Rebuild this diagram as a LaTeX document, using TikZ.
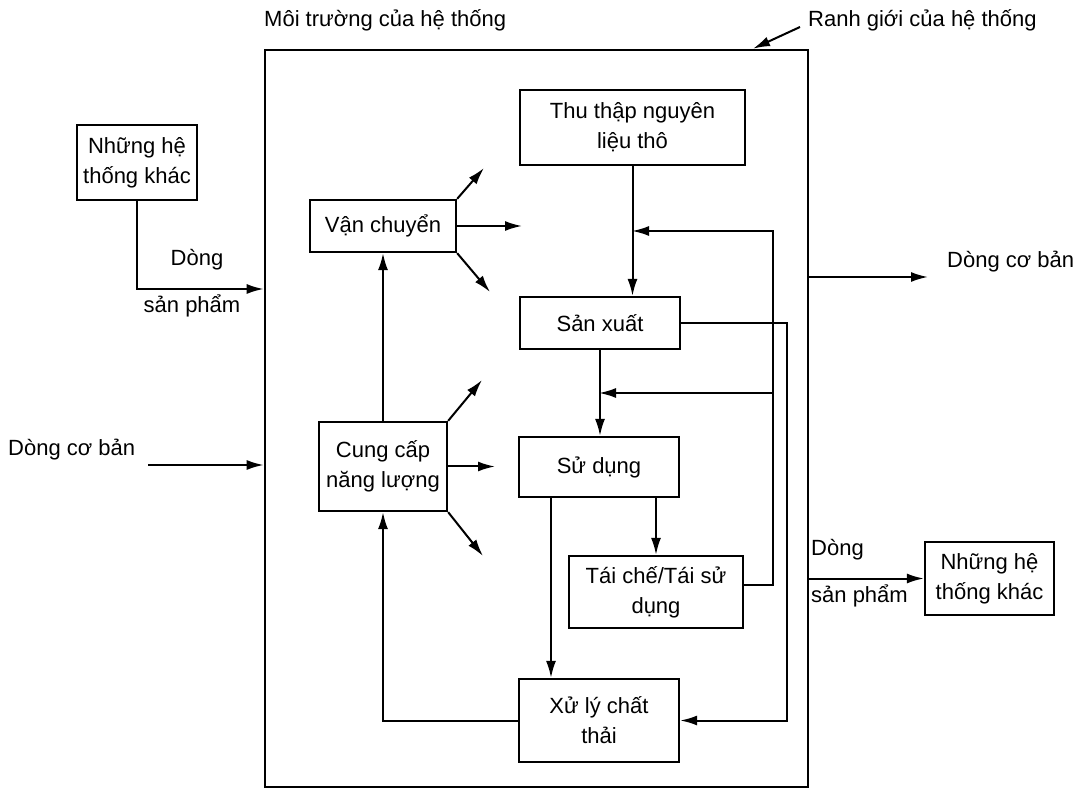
\documentclass[tikz,border=0pt]{standalone}
\usepackage{fontspec}
\setmainfont{Liberation Sans}
\usetikzlibrary{arrows.meta}
\begin{document}
\begin{tikzpicture}[x=1pt,y=-1pt,
  every node/.style={font=\fontsize{22}{30}\selectfont, inner sep=0pt},
  box/.style={draw, line width=2.3pt, align=center},
  conn/.style={line width=2pt},
  arr/.style={conn, -{Latex[length=17pt,width=10pt]}},
  lbl/.style={align=center}]
\useasboundingbox (0,0) rectangle (1085,791);

% system boundary
\node[draw, line width=2.6pt, minimum width=543pt, minimum height=737pt] (sys) at (536.5,418.5) {};

% process boxes
\node[box, minimum width=225pt, minimum height=75pt] (tt) at (632.5,127.5) {Thu thập nguyên\\liệu thô};
\node[box, minimum width=160pt, minimum height=52pt] (sx) at (600,323) {Sản xuất};
\node[box, minimum width=160pt, minimum height=60pt] (sd) at (599,467) {Sử dụng};
\node[box, minimum width=174pt, minimum height=72pt] (tc) at (656,592) {Tái chế/Tái sử\\dụng};
\node[box, minimum width=160pt, minimum height=83pt] (xl) at (599,720.5) {Xử lý chất\\thải};
\node[box, minimum width=146pt, minimum height=52pt] (vc) at (383,226) {Vận chuyển};
\node[box, minimum width=128pt, minimum height=89pt] (cc) at (383,466.5) {Cung cấp\\năng lượng};

% external systems
\node[box, minimum width=120pt, minimum height=75pt] (o1) at (137,162.5) {Những hệ\\thống khác};
\node[box, minimum width=129pt, minimum height=73pt] (o2) at (989.5,578.5) {Những hệ\\thống khác};

% texts
\node[anchor=west] (tenv) at (264,20) {Môi trường của hệ thống};
\node[anchor=west] (tbnd) at (808,20) {Ranh giới của hệ thống};
\node[lbl] (ld1) at (197,260) {Dòng};
\node[lbl] (ld2) at (192,306) {sản phẩm};
\node[anchor=west] (lcb) at (8,450) {Dòng cơ bản};
\node[anchor=west] (rcb) at (947,262) {Dòng cơ bản};
\node[anchor=west] (rd1) at (811,550) {Dòng};
\node[anchor=west] (rd2) at (811,596) {sản phẩm};

% helper coordinates
\coordinate (j1) at (632,231);
\coordinate (j2) at (599,393);
\coordinate (fbx) at (773,0);
\coordinate (wx) at (787,0);
\coordinate (tcout) at ([yshift=7pt]tc.east);
\coordinate (sdl) at ([xshift=-48pt]sd.south);
\coordinate (pin) at (0,289);
\coordinate (bl) at (148,465);
\coordinate (br) at (928,277);
\coordinate (rg) at (800,27);
\coordinate (rgx) at (753,0);

% main flow
\draw[arr] (tt.south) -- (tt.south |- sx.north);
\draw[arr] (sx.south) -- (sx.south |- sd.north);
\draw[arr] (sdl) -- (sdl |- xl.north);
\draw[arr] (sd.south -| tc.north) -- (tc.north);

% recycling feedback
\draw[arr] (tcout) -| (fbx |- j1) -- (j1);
\draw[arr] (fbx |- j2) -- (j2);

% waste from production
\draw[arr] (sx.east) -| (wx |- xl.east) -- (xl.east);

% energy recovery
\draw[arr] (xl.west) -| (cc.south);
\draw[arr] (cc.north) -- (vc.south);

% transport outputs
\coordinate (v1) at (484,168);
\coordinate (v2) at (522,226);
\coordinate (v3) at (490,292);
\draw[arr] (vc.north east) -- (v1);
\draw[arr] (vc.east) -- (v2);
\draw[arr] (vc.south east) -- (v3);

% energy outputs
\coordinate (e1) at (482,380);
\coordinate (e2) at (495,466.5);
\coordinate (e3) at (483,556);
\draw[arr] (cc.north east) -- (e1);
\draw[arr] (cc.east) -- (e2);
\draw[arr] (cc.south east) -- (e3);

% flows across the boundary
\draw[arr] (o1.south) |- (sys.west |- pin);
\draw[arr] (bl) -- (sys.west |- bl);
\draw[arr] (sys.east |- br) -- (br);
\draw[arr] (sys.east |- o2.west) -- (o2.west);
\draw[arr] (rg) -- (rgx |- sys.north);
\end{tikzpicture}
\end{document}
